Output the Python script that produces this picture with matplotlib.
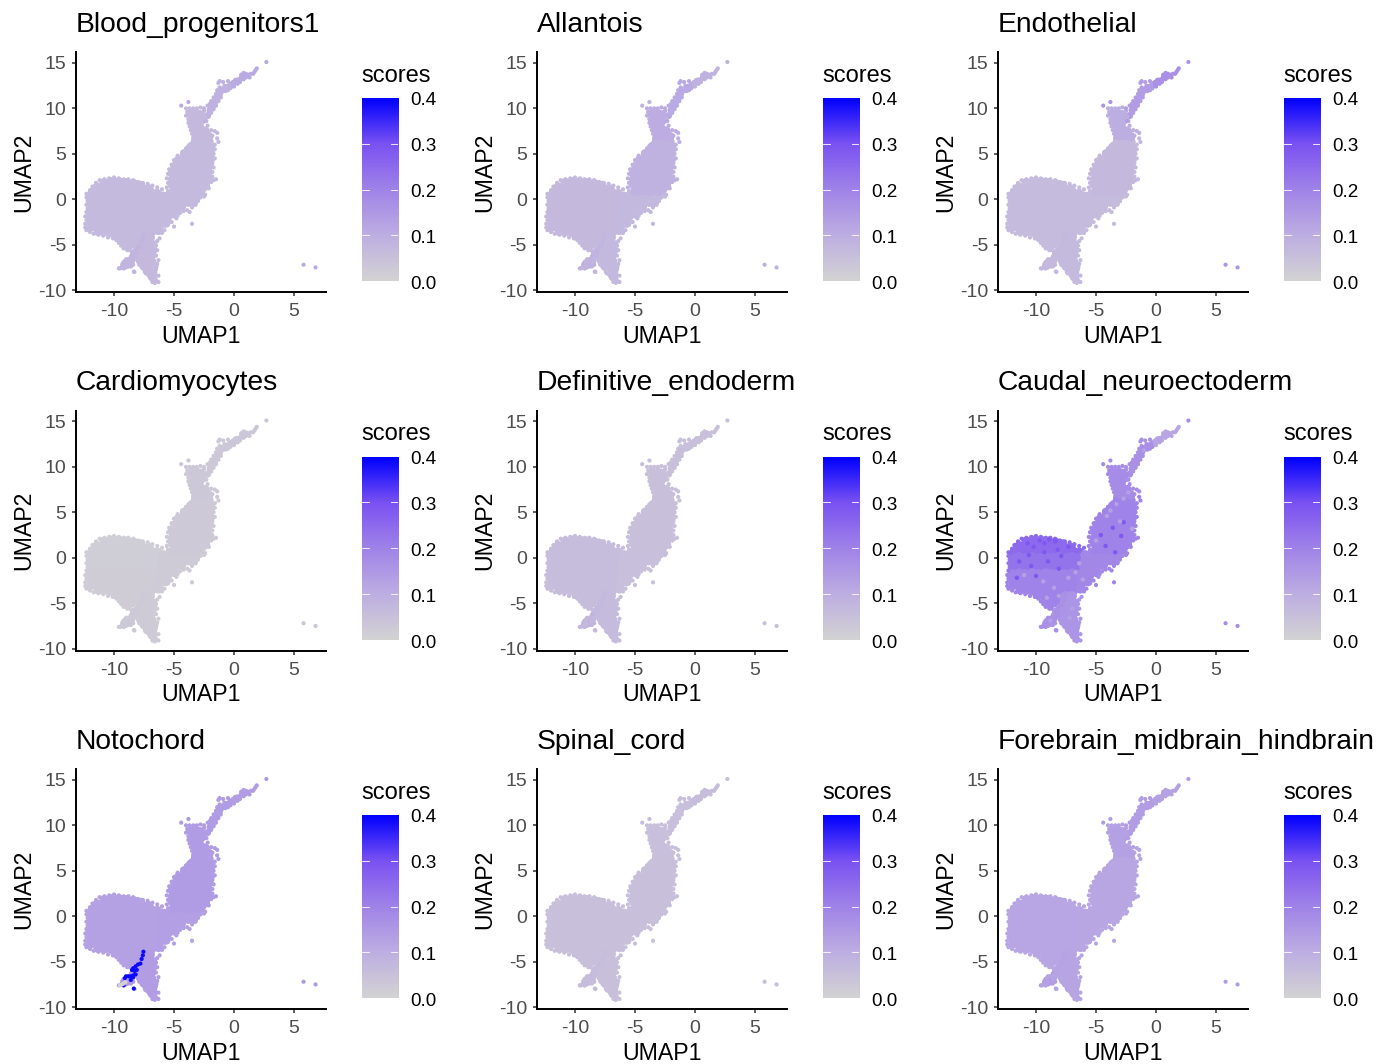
import numpy as np
import matplotlib
matplotlib.use("Agg")
import matplotlib.pyplot as plt
from matplotlib.colors import LinearSegmentedColormap, Normalize

plt.rcParams["font.family"] = ["Liberation Sans", "DejaVu Sans"]

W, H = 1392, 1064

titles = ["Blood_progenitors1", "Allantois", "Endothelial",
          "Cardiomyocytes", "Definitive_endoderm", "Caudal_neuroectoderm",
          "Notochord", "Spinal_cord", "Forebrain_midbrain_hindbrain"]
x_ticks = [-10, -5, 0, 5]
y_ticks = [-10, -5, 0, 5, 10, 15]
bar_ticks = [0.0, 0.1, 0.2, 0.3, 0.4]

# umap positions, big dots fill the inside of the cloud
body_top = [(-10.8, 1.8), (-10.2, 1.9), (-9.6, 1.9), (-9.0, 1.8), (-8.4, 1.7), (-7.8, 1.5),
            (-11.4, 1.3), (-10.9, 1.2), (-10.4, 1.3), (-9.8, 1.2), (-9.3, 1.3), (-8.7, 1.2), (-8.2, 1.2), (-7.6, 1.1), (-7.1, 1.1),
            (-11.8, 0.7), (-11.3, 0.6), (-10.7, 0.7), (-10.2, 0.6), (-9.6, 0.7), (-9.1, 0.6), (-8.5, 0.7), (-8.0, 0.6), (-7.4, 0.6), (-6.9, 0.7), (-6.4, 0.6)]
body_mid = [(-11.9, 0.0), (-11.4, 0.1), (-10.8, 0.0), (-10.3, 0.1), (-9.7, 0.0), (-9.2, 0.1), (-8.6, 0.0), (-8.1, 0.1), (-7.5, 0.0), (-7.0, 0.1), (-6.4, 0.0),
            (-11.9, -0.6), (-11.3, -0.5), (-10.8, -0.6), (-10.2, -0.5), (-9.7, -0.6), (-9.1, -0.5), (-8.6, -0.6), (-8.0, -0.5), (-7.5, -0.6), (-6.9, -0.5), (-6.4, -0.6),
            (-11.9, -1.2), (-11.4, -1.1), (-10.8, -1.2), (-10.3, -1.1), (-9.7, -1.2), (-9.2, -1.1), (-8.6, -1.2), (-8.1, -1.1), (-7.5, -1.2), (-7.0, -1.1), (-6.5, -1.2)]
body_low = [(-12.0, -1.8), (-11.4, -1.7), (-10.9, -1.8), (-10.3, -1.7), (-9.8, -1.8), (-9.2, -1.7), (-8.7, -1.8), (-8.1, -1.7), (-7.6, -1.8), (-7.0, -1.7), (-6.5, -1.8),
            (-11.9, -2.4), (-11.3, -2.3), (-10.8, -2.4), (-10.2, -2.3), (-9.7, -2.4), (-9.1, -2.3), (-8.6, -2.4), (-8.0, -2.3), (-7.5, -2.4), (-6.9, -2.3), (-6.5, -2.5),
            (-11.9, -3.0), (-11.4, -2.9), (-10.8, -3.0), (-10.3, -2.9), (-9.7, -3.0), (-9.2, -2.9), (-8.6, -3.0), (-8.1, -2.9), (-7.5, -3.0), (-7.0, -2.9), (-6.6, -3.1),
            (-11.3, -3.5), (-10.7, -3.5), (-10.2, -3.6), (-9.6, -3.5), (-9.1, -3.6), (-8.5, -3.5), (-8.0, -3.6), (-7.4, -3.5), (-6.9, -3.6),
            (-9.9, -4.0), (-9.4, -4.1), (-8.9, -4.0), (-8.3, -4.1), (-7.8, -4.0),
            (-9.2, -4.7), (-8.7, -4.6), (-8.2, -4.7), (-8.8, -5.1)]
tail = [(-7.5, -4.2), (-7.0, -4.2), (-7.6, -4.8), (-7.1, -4.8), (-6.8, -5.0), (-7.8, -5.4), (-7.3, -5.4), (-6.8, -5.6),
        (-7.9, -6.0), (-7.4, -6.1), (-6.9, -6.1), (-7.8, -6.7), (-7.3, -6.7), (-6.9, -6.8),
        (-7.5, -7.3), (-7.0, -7.3), (-6.7, -7.4), (-7.2, -7.9), (-6.8, -8.0), (-6.8, -8.5)]
branch = [(-8.4, -6.2), (-8.5, -6.7), (-8.9, -6.9), (-9.2, -7.2), (-8.6, -7.1)]
waist = [(-5.9, 0.3), (-5.4, 0.4), (-4.8, 0.3), (-4.3, 0.4), (-3.7, 0.3), (-3.2, 0.2),
         (-5.9, -0.3), (-5.4, -0.2), (-4.8, -0.3), (-4.3, -0.2), (-3.8, -0.3), (-3.4, -0.3),
         (-6.0, -0.9), (-5.4, -0.8), (-4.9, -0.9), (-4.4, -0.8), (-6.0, -1.5), (-5.5, -1.4), (-5.0, -1.5),
         (-6.1, -2.1), (-5.6, -2.0), (-6.1, -2.7), (-5.7, -2.6), (-6.3, -3.4)]
trunk = [(-5.0, 0.9), (-4.4, 1.0), (-3.8, 0.9), (-3.2, 1.0), (-2.8, 0.9),
         (-5.1, 1.6), (-4.5, 1.6), (-3.9, 1.5), (-3.3, 1.6), (-2.8, 1.5), (-2.4, 1.5),
         (-5.1, 2.2), (-4.5, 2.3), (-3.9, 2.2), (-3.3, 2.3), (-2.7, 2.2), (-2.2, 2.2),
         (-5.1, 2.9), (-4.5, 2.9), (-3.9, 3.0), (-3.3, 2.9), (-2.7, 2.9), (-2.2, 3.0),
         (-4.9, 3.6), (-4.4, 3.7), (-3.8, 3.6), (-3.2, 3.7), (-2.7, 3.6), (-2.1, 3.7),
         (-4.6, 4.3), (-4.1, 4.4), (-3.5, 4.3), (-3.0, 4.4), (-2.4, 4.3), (-2.0, 4.4),
         (-4.1, 5.0), (-3.6, 5.0), (-3.0, 5.1), (-2.5, 5.0), (-2.0, 5.1),
         (-3.6, 5.7), (-3.0, 5.7), (-2.5, 5.8), (-2.0, 5.7), (-3.2, 6.3), (-2.6, 6.4), (-2.1, 6.3)]
neck = [(-3.1, 7.0), (-2.6, 7.0), (-2.1, 6.9), (-3.2, 7.6), (-2.7, 7.6), (-2.4, 7.5),
        (-3.4, 8.2), (-2.9, 8.2), (-3.5, 8.8), (-3.0, 8.8), (-2.7, 8.7), (-3.6, 9.4), (-3.1, 9.4), (-2.8, 9.3)]
stalk = [(-2.2, 9.2), (-2.0, 9.8), (-1.8, 10.2), (-1.6, 10.7), (-1.4, 11.2), (-1.2, 11.6), (-1.0, 12.0), (-0.6, 12.3)]
tip = [(-0.2, 12.6), (0.2, 13.0), (0.7, 13.4)]

# small dots, the rough rim of each part
body_top_edge = [(-12.0, 1.0), (-11.8, 1.4), (-11.5, 1.8), (-11.2, 2.1), (-10.8, 2.2), (-10.4, 2.3), (-10.0, 2.4), (-9.6, 2.3), (-9.2, 2.2), (-8.8, 2.2), (-8.4, 2.1), (-8.0, 1.9), (-7.6, 1.8), (-7.2, 1.7), (-6.8, 1.5), (-6.4, 1.3), (-6.0, 1.1), (-12.3, 0.6), (-12.1, 0.5)]
body_mid_edge = [(-12.3, 0.2), (-12.2, -0.2), (-12.3, -0.6), (-12.2, -1.0), (-12.3, -1.4)]
body_low_edge = [(-12.4, -1.9), (-12.3, -2.3), (-12.4, -2.7), (-12.4, -3.1), (-12.3, -3.4), (-12.0, -3.6), (-11.7, -3.8), (-11.3, -3.9), (-10.9, -4.0), (-10.5, -4.2), (-10.1, -4.3), (-9.8, -4.5), (-9.6, -4.8), (-9.4, -5.1), (-9.2, -5.4), (-8.9, -5.6), (-8.7, -5.6), (-8.4, -5.2)]
tail_edge = [(-8.2, -5.6), (-8.2, -6.0), (-7.9, -7.2), (-7.6, -7.6), (-7.3, -8.1), (-7.1, -8.4), (-6.9, -8.7), (-6.8, -9.1), (-6.6, -9.2), (-6.3, -9.1), (-6.5, -8.9), (-6.3, -8.4), (-6.6, -8.3), (-6.5, -7.7), (-6.4, -7.1), (-6.3, -6.7), (-6.5, -6.2), (-6.4, -5.6), (-6.5, -5.1), (-6.4, -4.6), (-6.2, -4.3), (-8.3, -8.0)]
branch_edge = [(-9.6, -7.6), (-9.4, -7.5), (-9.2, -7.6), (-9.0, -7.5), (-8.8, -7.4), (-8.6, -7.4), (-8.4, -7.2), (-9.0, -7.2), (-9.2, -6.9), (-8.8, -6.6), (-8.6, -6.3), (-8.3, -5.9)]
waist_edge = [(-5.5, 0.9), (-2.8, 0.2), (-2.5, 0.3), (-3.0, -0.2), (-2.4, 0.5), (-3.2, -0.6), (-3.5, -0.9), (-3.9, -1.2), (-4.2, -1.3), (-4.5, -1.5), (-3.7, -1.4), (-4.7, -1.8), (-5.0, -1.9), (-5.3, -2.0), (-4.8, -2.1), (-5.2, -2.5), (-5.0, -3.0), (-3.5, -2.7), (-5.5, -2.8), (-5.8, -3.4), (-6.0, -3.7)]
trunk_edge = [(-5.6, 1.3), (-5.5, 1.8), (-5.6, 2.3), (-5.5, 2.8), (-5.4, 3.3), (-5.2, 3.8), (-5.0, 4.3), (-4.7, 4.8), (-4.3, 5.2), (-4.0, 5.6), (-3.6, 6.1), (-3.4, 6.6), (-1.6, 5.5), (-1.7, 5.0), (-1.6, 4.5), (-1.8, 4.0), (-1.7, 3.5), (-1.8, 3.0), (-1.8, 2.5), (-1.7, 2.1), (-1.5, 2.2), (-1.9, 1.9), (-2.2, 1.6), (-2.1, 1.2), (-2.5, 1.0), (-1.3, 6.3), (-1.6, 6.0), (-1.4, 6.7)]
neck_edge = [(-4.0, 10.0), (-3.7, 10.0), (-3.4, 10.0), (-3.1, 10.0), (-2.8, 10.1), (-3.9, 9.6), (-4.0, 9.2), (-3.8, 8.8), (-3.8, 8.4), (-3.7, 8.0), (-3.6, 7.6), (-3.5, 7.2), (-3.4, 6.8), (-2.5, 9.7), (-2.4, 9.1), (-2.3, 8.6), (-2.2, 8.1), (-1.9, 7.6), (-1.6, 7.5), (-1.4, 7.3), (-1.8, 7.0)]
stalk_edge = [(-2.4, 8.6), (-2.5, 10.0), (-2.2, 10.3), (-2.0, 10.5), (-1.9, 9.5), (-1.7, 9.9), (-1.9, 10.8), (-1.7, 11.2), (-1.5, 10.3), (-1.3, 10.8), (-1.1, 11.2), (-1.5, 11.6), (-1.4, 12.0), (-1.2, 12.3), (-1.3, 12.8), (-1.2, 13.0), (-0.9, 12.9), (-0.8, 12.5), (-0.7, 11.9), (-0.5, 12.0), (-0.9, 12.2), (-0.4, 12.6), (-0.3, 12.2), (-0.5, 13.0)]
tip_edge = [(-0.1, 12.9), (0.0, 12.4), (0.1, 12.7), (0.3, 12.7), (0.1, 13.1), (0.4, 13.2), (0.5, 12.9), (0.6, 13.7), (0.8, 13.9), (0.8, 13.2), (1.0, 13.4), (1.0, 13.8), (1.2, 13.7), (1.3, 13.4), (1.4, 13.8), (1.6, 13.8), (1.7, 14.0), (1.8, 14.2), (1.9, 14.4)]
stray = [(2.7, 15.1), (5.8, -7.2), (6.8, -7.5), (-4.4, 10.3), (-3.8, 10.7)]

# blue streak only the notochord panel shows
streak = [(-7.55, -3.9), (-7.6, -4.3), (-7.7, -4.7), (-7.8, -5.2), (-8.0, -5.3), (-8.2, -5.5), (-8.4, -5.7), (-8.5, -5.9), (-8.3, -6.0), (-8.1, -5.9), (-8.2, -6.4), (-8.4, -6.5), (-8.4, -6.7), (-8.6, -6.6), (-8.8, -6.6), (-9.1, -6.8), (-9.0, -6.6), (-8.6, -7.0), (-9.2, -7.6), (-8.35, -7.95)]
streak_grey = [(-9.5, -7.6), (-9.35, -7.5), (-9.2, -7.4), (-9.05, -7.25)]

# lighter and darker dots seen in the caudal panel
caudal_dark = [(-10.7, 1.6), (-10.2, 1.2), (-9.7, 1.9), (-9.3, 1.6), (-8.9, 2.0), (-8.4, 1.8), (-8.4, 1.9), (-10.6, 0.3), (-9.3, 0.6), (-8.2, 0.9), (-7.9, 0.2), (-7.3, 1.2), (-11.4, -0.4), (-10.4, -0.9), (-9.0, -0.4), (-8.1, -1.2), (-11.6, -2.2), (-10.0, -2.0), (-4.6, 2.5), (-3.6, 3.3), (-2.9, 2.4), (-4.2, 1.3), (-3.4, 0.6), (-2.7, 3.9)]
caudal_light = [(-11.0, -1.9), (-9.4, -2.6), (-8.5, -3.3), (-8.1, -4.2), (-9.1, -4.4), (-7.3, -2.2), (-6.7, -1.6), (-6.4, -0.6), (-7.0, -5.6), (-7.2, -6.6), (-8.8, -6.9), (-3.8, 5.2), (-3.3, 5.9), (-2.7, 6.5), (-4.1, 4.6), (-2.3, 7.2), (-3.0, 4.0), (-2.0, 3.2), (-5.0, 1.9), (-1.0, 11.8), (0.3, 13.0), (-6.1, -2.4)]

# score per part, same order as parts below, last two are the streak dots
blood_scores = [0.068, 0.068, 0.068, 0.07, 0.08, 0.068, 0.068, 0.07, 0.09, 0.11, 0.11, 0.08, 0.08]
allantois_scores = [0.07, 0.07, 0.07, 0.075, 0.09, 0.075, 0.09, 0.105, 0.11, 0.09, 0.09, 0.08, 0.08]
endothelial_scores = [0.065, 0.065, 0.065, 0.068, 0.07, 0.065, 0.07, 0.10, 0.14, 0.17, 0.16, 0.07, 0.07]
cardio_scores = [0.018, 0.018, 0.02, 0.022, 0.03, 0.022, 0.028, 0.03, 0.03, 0.035, 0.035, 0.025, 0.025]
endoderm_scores = [0.06, 0.06, 0.06, 0.065, 0.085, 0.055, 0.05, 0.05, 0.05, 0.05, 0.05, 0.07, 0.07]
caudal_scores = [0.25, 0.23, 0.20, 0.16, 0.16, 0.19, 0.20, 0.18, 0.17, 0.12, 0.18, 0.17, 0.17]
noto_scores = [0.13, 0.13, 0.13, 0.14, 0.15, 0.135, 0.145, 0.145, 0.145, 0.14, 0.15, 0.39, 0.0]
spinal_scores = [0.05, 0.05, 0.05, 0.053, 0.06, 0.052, 0.052, 0.055, 0.055, 0.06, 0.06, 0.06, 0.06]
forebrain_scores = [0.12, 0.12, 0.12, 0.122, 0.14, 0.118, 0.118, 0.13, 0.14, 0.13, 0.14, 0.125, 0.125]
panel_scores = [blood_scores, allantois_scores, endothelial_scores,
                cardio_scores, endoderm_scores, caudal_scores,
                noto_scores, spinal_scores, forebrain_scores]

parts = [body_top, body_mid, body_low, tail, branch, waist, trunk, neck, stalk, tip, None, None, None]
edges = [body_top_edge, body_mid_edge, body_low_edge, tail_edge, branch_edge, waist_edge, trunk_edge, neck_edge, stalk_edge, tip_edge, stray, streak, streak_grey]
fill_sizes = [50, 50, 50, 50, 26, 50, 50, 44, 26, 26, 0, 0, 0]

# seurat style lightgrey to blue
cmap = LinearSegmentedColormap.from_list("scores", ["#D3D3D3", "#BDAEE2", "#A083E8", "#7A52F2", "#0000FF"])
norm = Normalize(0, 0.4)


def px_axes(fig, left, top, right, bottom):
    return fig.add_axes([left / W, 1 - bottom / H, (right - left) / W, (bottom - top) / H])


def draw_panel(fig, idx):
    col, row = idx % 3, idx // 3
    dx, dy = 461 * col, 358.5 * row
    ax = px_axes(fig, 76 + dx, 52 + dy, 326 + dx, 292 + dy)
    scores = panel_scores[idx]
    for part, edge, score, size in zip(parts, edges, scores, fill_sizes):
        if part is not None:
            pts = np.array(part)
            ax.scatter(pts[:, 0], pts[:, 1], s=size, c=[score] * len(pts), cmap=cmap, norm=norm, linewidths=0, zorder=2)
        pts = np.array(edge)
        ax.scatter(pts[:, 0], pts[:, 1], s=9, c=[score] * len(pts), cmap=cmap, norm=norm, linewidths=0, zorder=2.5)
    if titles[idx] == "Caudal_neuroectoderm":
        pts = np.array(caudal_dark)
        ax.scatter(pts[:, 0], pts[:, 1], s=10, c=[0.29] * len(pts), cmap=cmap, norm=norm, linewidths=0, zorder=3)
        pts = np.array(caudal_light)
        ax.scatter(pts[:, 0], pts[:, 1], s=10, c=[0.13] * len(pts), cmap=cmap, norm=norm, linewidths=0, zorder=3)

    ax.set_xlim(-13.17, 7.67)
    ax.set_ylim(-10.2, 16.2)
    ax.set_xticks(x_ticks)
    ax.set_yticks(y_ticks)
    ax.set_xticklabels([str(t) for t in x_ticks])
    ax.set_yticklabels([str(t) for t in y_ticks])
    ax.tick_params(labelsize=14, labelcolor="#4D4D4D", color="#333333", width=1.1, length=3.2)
    ax.tick_params(axis="x", pad=5)
    ax.tick_params(axis="y", pad=4)
    for side in ["top", "right"]:
        ax.spines[side].set_visible(False)
    for side in ["left", "bottom"]:
        ax.spines[side].set_linewidth(1.4)
    ax.set_xlabel("UMAP1", fontsize=16.7, labelpad=3)
    ax.set_ylabel("UMAP2", fontsize=16.7, labelpad=2)
    fig.text((76 + dx) / W, 1 - (25 + dy) / H, titles[idx], fontsize=20.3, ha="left", va="center")

    # legend bar
    cax = px_axes(fig, 361.5 + dx, 98 + dy, 398 + dx, 281 + dy)
    grad = np.linspace(0.4, 0, 256).reshape(-1, 1)
    cax.imshow(grad, aspect="auto", cmap=cmap, norm=norm, extent=[0, 1, 0, 0.4])
    for t in bar_ticks[1:-1]:
        cax.plot([0, 0.2], [t, t], color="white", lw=0.6)
        cax.plot([0.8, 1], [t, t], color="white", lw=0.6)
    cax.set_xlim(0, 1)
    cax.set_ylim(0, 0.4)
    cax.axis("off")
    fig.text((361 + dx) / W, 1 - (76 + dy) / H, "scores", fontsize=17, ha="left", va="center")
    for t in bar_ticks:
        fig.text((410.5 + dx) / W, 1 - (284.5 - t * 460 + dy) / H, f"{t:.1f}", fontsize=13.6, ha="left", va="center")


def main():
    fig = plt.figure(figsize=(W / 100, H / 100), dpi=100)
    for idx in range(len(titles)):
        draw_panel(fig, idx)
    fig.savefig("out.png", dpi=100)
    plt.close(fig)


if __name__ == "__main__":
    main()
